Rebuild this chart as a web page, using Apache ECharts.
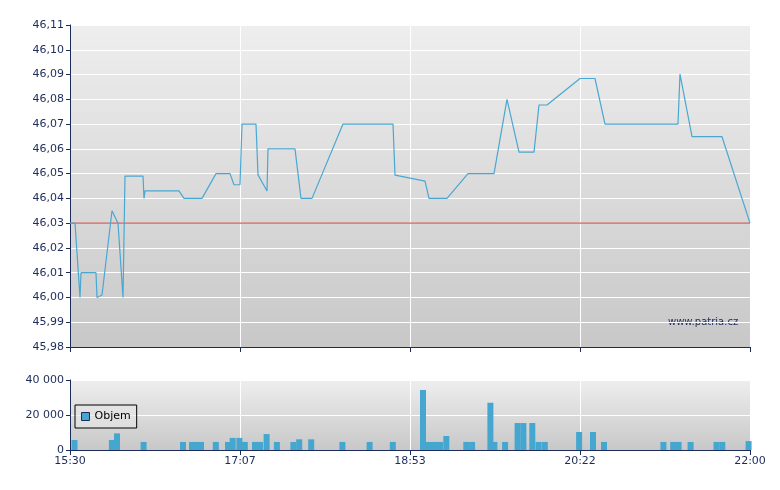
<!DOCTYPE html>
<html><head><meta charset="utf-8">
<script src="https://cdn.jsdelivr.net/npm/echarts@6/dist/echarts.min.js"></script>
<style>html,body{margin:0;padding:0;background:#fff}#c{width:780px;height:490px}</style>
</head><body><div id="c"></div>
<script>
const xTickLabels = ['15:30','17:07','18:53','20:22','22:00'];
const priceX = [0,5,10,11,26,27,32,42,48,53,55,73,74,75,109,114,132,146,160,164,170,172,186,188,197,198,225,231,242,273,323,325,355,359,377,398,424,437,449,464,469,477,510,525,535,608,610,622,652,680];
const priceY = [46.03,46.03,46.00,46.01,46.01,46.00,46.001,46.035,46.03,46.00,46.049,46.049,46.04,46.043,46.043,46.04,46.04,46.05,46.05,46.0455,46.0455,46.07,46.07,46.0495,46.043,46.06,46.06,46.04,46.04,46.07,46.07,46.0494,46.047,46.04,46.04,46.05,46.05,46.08,46.0587,46.0587,46.0777,46.0777,46.0884,46.0884,46.07,46.07,46.0902,46.0649,46.0649,46.03];
const volX = [4.5,41.9,47,73.6,113,122,126.6,131,145.8,158,162.7,169.4,174.8,185,190,196.6,206.9,223.4,229.2,241.2,272.4,299.6,322.8,353,358.4,364,370,376.3,396.3,402.1,420.4,424.4,435.1,447.6,453.4,462.3,468.6,474.8,509.1,523,534,593.4,603.2,608.6,620.6,646.5,652.3,678.6];
const volY = [5700,5700,9500,4600,4600,4600,4600,4600,4600,4600,6900,6900,4600,4600,4600,9100,4600,4600,6100,6100,4600,4600,4600,34300,4600,4600,4600,8000,4600,4600,27000,4600,4600,15400,15400,15400,4600,4600,10300,10300,4600,4600,4600,4600,4600,4600,4600,5100];
const refPrice = 46.03;

const navy = '#1c2b5a';
const bg = {type:'linear',x:0,y:0,x2:0,y2:1,colorStops:[{offset:0,color:'#eeeeee'},{offset:1,color:'#c8c8c8'}]};
const font = {fontFamily:'DejaVu Sans',fontSize:11,color:navy};
const xAx = (idx, labels) => ({
  type:'value', gridIndex:idx, min:0, max:680, interval:170,
  axisLine:{show:true,lineStyle:{color:navy,width:1}},
  axisTick:{show:true,length:5,lineStyle:{color:navy}},
  axisLabel:labels?Object.assign({},font,{margin:6,formatter:v=>xTickLabels[Math.round(v/170)]}):{show:false},
  splitLine:{show:true,lineStyle:{color:'#ffffff',width:1}}
});
const chart = echarts.init(document.getElementById('c'));
chart.setOption({
  animation:false,
  grid:[
    {left:70,right:30,top:25,bottom:143,show:true,backgroundColor:bg,borderWidth:0},
    {left:70,right:30,top:380,bottom:40,show:true,backgroundColor:bg,borderWidth:0}
  ],
  xAxis:[xAx(0,false), xAx(1,true)],
  yAxis:[
    {type:'value',gridIndex:0,min:45.98,max:46.11,interval:0.01,
     axisLine:{show:true,lineStyle:{color:navy}},axisTick:{show:true,length:4,lineStyle:{color:navy}},
     axisLabel:Object.assign({},font,{margin:6,formatter:v=>v.toFixed(2).replace('.',',')}),
     splitLine:{lineStyle:{color:'#ffffff'}}},
    {type:'value',gridIndex:1,min:0,max:40000,interval:20000,
     axisLine:{show:true,lineStyle:{color:navy}},axisTick:{show:true,length:4,lineStyle:{color:navy}},
     axisLabel:Object.assign({},font,{margin:6,formatter:v=>v===0?'0':String(v).replace(/\B(?=(\d{3})+(?!\d))/g,' ')}),
     splitLine:{lineStyle:{color:'#ffffff'}}}
  ],
  legend:{show:true,data:[{name:'Objem',icon:'rect',itemStyle:{color:'#45a6d0',borderColor:'#1c2b5a',borderWidth:1}}],left:75,top:405,orient:'vertical',
    backgroundColor:'rgba(230,230,230,0.6)',borderColor:'#000',borderWidth:1,padding:[6,6,6,6],
    itemWidth:8,itemHeight:8,itemGap:4,textStyle:{fontFamily:'DejaVu Sans',fontSize:11,color:'#000'}},
  series:[
    {type:'line',xAxisIndex:0,yAxisIndex:0,data:[[0,refPrice],[680,refPrice]],showSymbol:false,silent:true,
     lineStyle:{color:'#e03030',width:1},itemStyle:{color:'#e03030'},z:1},
    {type:'line',xAxisIndex:0,yAxisIndex:0,data:priceX.map((x,i)=>[x,priceY[i]]),
     showSymbol:false,lineStyle:{color:'#4aa7d2',width:1.2},itemStyle:{color:'#4aa7d2'},z:2},
    {name:'Objem',type:'bar',xAxisIndex:1,yAxisIndex:1,data:volX.map((x,i)=>[x,volY[i]]),
     barWidth:6,itemStyle:{color:'#45a6d0'}}
  ],
  graphic:[{type:'text',left:668,top:317,style:{text:'www.patria.cz',fontFamily:'DejaVu Sans',fontSize:10,fill:navy}}]
});
</script></body></html>
